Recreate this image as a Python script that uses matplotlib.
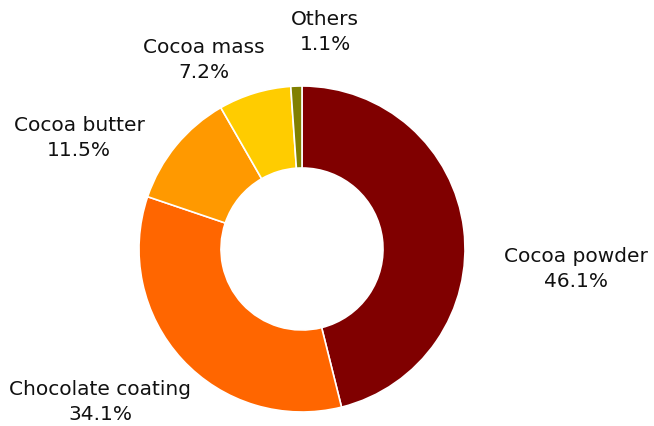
import matplotlib
matplotlib.use("Agg")
import matplotlib.pyplot as plt

# Share of cocoa product categories
categories = ["Cocoa powder", "Chocolate coating", "Cocoa butter", "Cocoa mass", "Others"]
shares = [46.1, 34.1, 11.5, 7.2, 1.1]
colors = ["#800000", "#FF6600", "#FF9900", "#FFCC00", "#808000"]

# label centres in pixel coords (x, y from top)
label_pos = [(576, 269), (100, 402), (79, 138), (204, 60), (325, 32)]

W, H = 654, 426
fig = plt.figure(figsize=(W / 100, H / 100), dpi=100)
ax = fig.add_axes([0, 0, 1, 1])

ax.pie(shares, colors=colors, startangle=90, counterclock=False,
       center=(302, H - 249), radius=163, frame=True,
       wedgeprops=dict(width=82, edgecolor="white", linewidth=1.2))
ax.set_xlim(0, W)
ax.set_ylim(0, H)
ax.set_aspect("equal")
ax.axis("off")

for name, val, (x, y) in zip(categories, shares, label_pos):
    ax.text(x, H - y, f"{name}\n{val:.1f}%", ha="center", va="center",
            fontsize=14.5, family="DejaVu Sans", color="#111111", linespacing=1.42)

fig.savefig("out.png", dpi=100)
